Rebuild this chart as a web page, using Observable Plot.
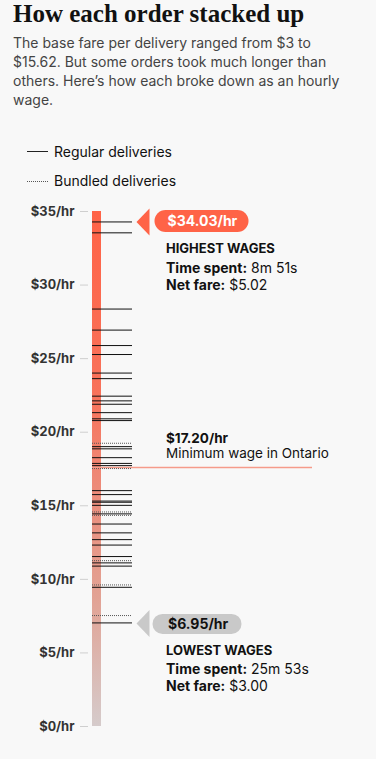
<!DOCTYPE html>
<html>
<head>
<meta charset="utf-8">
<script src="https://cdn.jsdelivr.net/npm/d3@7"></script>
<script src="https://cdn.jsdelivr.net/npm/@observablehq/plot@0.6"></script>
<style>
  html, body { margin: 0; padding: 0; background: #f8f8f8; }
  body { width: 376px; height: 759px; overflow: hidden; font-family: Inter, "Noto Sans", sans-serif; }
  #header { position: relative; height: 195px; }
  #title { position: absolute; left: 13px; top: -1px; margin: 0; font: 700 25px/30px "Liberation Serif", serif; color: #111; white-space: nowrap; }
  #subtitle { position: absolute; left: 13px; top: 33px; width: 345px; margin: 0; font: 400 14px/19px Inter, sans-serif; color: #444; }
  .legend-row { position: absolute; left: 27px; height: 20px; font: 400 14px/20px Inter, sans-serif; color: #111; }
  .legend-row .sw { position: absolute; left: 0; top: 9px; width: 21px; }
  .legend-row .lab { position: absolute; left: 27px; top: 0; white-space: nowrap; }
  #leg1 { top: 142px; }
  #leg1 .sw { border-top: 1.5px solid #222; }
  #leg2 { top: 171px; }
  #leg2 .sw { border-top: 1px dotted #555; top: 10px; }
  #chart svg { display: block; font-family: Inter, sans-serif; }
  #chart svg text { font-family: Inter, sans-serif; }
  g[aria-label="y-axis tick"] { stroke: #cfcfcf; }
  g[aria-label="y-axis tick label"] { font-weight: 700; fill: #333; }
</style>
</head>
<body>
<div id="header">
  <h1 id="title">How each order stacked up</h1>
  <p id="subtitle">The base fare per delivery ranged from $3 to $15.62. But some orders took much longer than others. Here’s how each broke down as an hourly wage.</p>
  <div class="legend-row" id="leg1"><div class="sw"></div><div class="lab">Regular deliveries</div></div>
  <div class="legend-row" id="leg2"><div class="sw"></div><div class="lab">Bundled deliveries</div></div>
</div>
<div id="chart"></div>
<script>
// Hourly wage per order ($/hr)
const regularWages = [34.29, 33.55, 28.37, 26.94, 25.89, 25.28, 24.02, 23.64, 22.45, 22.13, 21.90, 21.33, 20.91, 20.79, 19.02, 18.87, 18.27, 17.88, 17.73, 16.03, 15.76, 15.32, 15.24, 15.03, 14.45, 13.76, 13.16, 12.70, 12.33, 11.55, 11.12, 10.90, 9.46, 7.04];
const bundledWages = [19.25, 17.53, 14.58, 14.35, 11.27, 9.62, 7.54];
const yTicks = [0, 5, 10, 15, 20, 25, 30, 35];
const barTop = 35;
const minWageLine = 17.6;
const minWageLabels = ["$17.20/hr", "Minimum wage in Ontario"];
const highLabels = ["$34.03/hr", "HIGHEST WAGES", "Time spent: 8m 51s", "Net fare: $5.02"];
const lowLabels = ["$6.95/hr", "LOWEST WAGES", "Time spent: 25m 53s", "Net fare: $3.00"];

const highest = d3.max(regularWages);
const lowest = d3.min(regularWages);

const triLeft = {
  draw(ctx) {
    ctx.moveTo(-6.5, 0);
    ctx.lineTo(6.5, -13.5);
    ctx.lineTo(6.5, 13.5);
    ctx.closePath();
  }
};
function pill(w, h) {
  const r = h / 2;
  return {
    draw(ctx) {
      ctx.moveTo(-w / 2 + r, -h / 2);
      ctx.lineTo(w / 2 - r, -h / 2);
      ctx.arc(w / 2 - r, 0, r, -Math.PI / 2, Math.PI / 2);
      ctx.lineTo(-w / 2 + r, h / 2);
      ctx.arc(-w / 2 + r, 0, r, Math.PI / 2, 3 * Math.PI / 2);
      ctx.closePath();
    }
  };
}

const textCommon = {frameAnchor: "right", textAnchor: "start", lineAnchor: "bottom", fill: "#111"};

const chart = Plot.plot({
  width: 376,
  height: 564,
  marginTop: 16,
  marginBottom: 33,
  marginLeft: 92,
  marginRight: 244,
  style: {background: "transparent", fontFamily: "Inter, sans-serif", fontSize: "13px", overflow: "visible"},
  x: {domain: [0, 1], axis: null},
  y: {domain: [0, 35], axis: null},
  marks: [
    Plot.axisY({ticks: yTicks, tickFormat: d => `$${d}/hr`, tickSize: 8, tickPadding: 6, dx: -4, fontSize: 13}),
    Plot.rect([barTop], {y1: 0, y2: d => d, fill: "url(#wageGrad)", insetRight: 31}),
    Plot.ruleY([minWageLine], {stroke: "#f59b8a", strokeWidth: 1.5, insetRight: -180}),
    Plot.ruleY(regularWages, {stroke: "#111", strokeWidth: 1}),
    Plot.ruleY(bundledWages, {stroke: "#555", strokeWidth: 1, strokeDasharray: "1,1"}),
    // highest annotation
    Plot.dot([highest], {y: d => d, frameAnchor: "right", dx: 10.5, symbol: triLeft, fill: "#ff6347", stroke: null}),
    Plot.dot([highest], {y: d => d, frameAnchor: "right", dx: 69, dy: -1, symbol: pill(94, 22), fill: "#ff6347", stroke: null}),
    Plot.text([highest], {...textCommon, y: d => d, text: () => highLabels[0], dx: 35, dy: 4, fill: "white", fontWeight: 700, fontSize: 14}),
    Plot.text([highest], {...textCommon, y: d => d, text: () => highLabels[1], dx: 33.5, dy: 31.5, fontWeight: 700, fontSize: 13}),
    Plot.text([highest], {...textCommon, y: d => d, text: () => highLabels[2], dx: 33.5, dy: 50.7, fontSize: 14}),
    Plot.text([highest], {...textCommon, y: d => d, text: () => highLabels[3], dx: 33.5, dy: 68.5, fontSize: 14}),
    // minimum wage
    Plot.text([minWageLine], {...textCommon, y: d => d, text: () => minWageLabels[0], dx: 33.5, dy: -24.5, fontWeight: 700, fontSize: 13.5}),
    Plot.text([minWageLine], {...textCommon, y: d => d, text: () => minWageLabels[1], dx: 33.5, dy: -9.7, fontSize: 13.5}),
    // lowest annotation
    Plot.dot([lowest], {y: d => d, frameAnchor: "right", dx: 10.5, dy: 0.7, symbol: triLeft, fill: "#c9c9c9", stroke: null}),
    Plot.dot([lowest], {y: d => d, frameAnchor: "right", dx: 64.5, dy: 1, symbol: pill(89, 20), fill: "#c9c9c9", stroke: null}),
    Plot.text([lowest], {...textCommon, y: d => d, text: () => lowLabels[0], dx: 35.5, dy: 6, fontWeight: 700, fontSize: 14}),
    Plot.text([lowest], {...textCommon, y: d => d, text: () => lowLabels[1], dx: 33.5, dy: 32, fontWeight: 700, fontSize: 13}),
    Plot.text([lowest], {...textCommon, y: d => d, text: () => lowLabels[2], dx: 33.5, dy: 50.7, fontSize: 14}),
    Plot.text([lowest], {...textCommon, y: d => d, text: () => lowLabels[3], dx: 33.5, dy: 67.7, fontSize: 14})
  ]
});

const svg = d3.select(chart);
const defs = svg.insert("defs", ":first-child");
const grad = defs.append("linearGradient").attr("id", "wageGrad").attr("x1", 0).attr("y1", 0).attr("x2", 0).attr("y2", 1);
[["0%", "#ff6347"], ["35%", "#f8725a"], ["55%", "#ec8c7b"], ["75%", "#e2a294"], ["100%", "#d5cbcb"]]
  .forEach(([o, c]) => grad.append("stop").attr("offset", o).attr("stop-color", c));

svg.selectAll("text").each(function() {
  const t = this.textContent;
  const m = t.match(/^(Time spent:|Net fare:)(.*)$/);
  if (m) {
    const el = d3.select(this);
    el.text(null);
    el.append("tspan").attr("font-weight", 700).text(m[1]);
    el.append("tspan").attr("font-weight", 400).text(m[2]);
  }
});

document.getElementById("chart").appendChild(chart);
</script>
</body>
</html>
